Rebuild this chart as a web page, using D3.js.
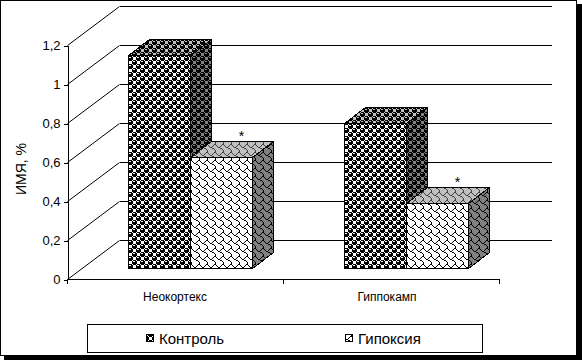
<!DOCTYPE html>
<html lang="ru">
<head>
<meta charset="utf-8">
<title>ИМЯ, %</title>
<script src="https://d3js.org/d3.v7.min.js"></script>
<style>
  body { margin: 0; background: #fff; }
  svg { display: block; font-family: "Liberation Sans", Arial, sans-serif; }
</style>
</head>
<body>
<script>
const categories = ["Неокортекс", "Гиппокамп"];
const seriesNames = ["Контроль", "Гипоксия"];
const control = [1.09, 0.74];
const hypoxia = [0.57, 0.33];
const hypoxiaLabels = ["*", "*"];
const yTicks = [0, 0.2, 0.4, 0.6, 0.8, 1, 1.2];
const yTitle = "ИМЯ, %";

const W = 582, H = 360;
const svg = d3.select("body").append("svg").attr("width", W).attr("height", H);
const defs = svg.append("defs");

// oblique depth of the 3d box, and where the bars sit inside it
const DX = 52, DY = -39;
const f0 = 0.29, f1 = 0.69;

const x0 = d3.scaleBand().domain(categories).range([67, 499])
    .paddingInner(0.426).paddingOuter(0.213);
const x1 = d3.scaleBand().domain(seriesNames).range([0, x0.bandwidth()]);
const y = d3.scaleLinear().domain([0, 1.2]).range([279, 45]);

// 8x8 excel-like hatch patterns
const sphereBits = ["01110111","10011000","11111000","11111000","01110111","10001001","10001111","10001111"];
const shingleBits = ["00000011","10000100","01001000","00110000","00001100","00000010","00000001","00000001"];

function addPattern(id, bits, fg, bg) {
  const p = defs.append("pattern").attr("id", id)
      .attr("patternUnits", "userSpaceOnUse").attr("width", 8).attr("height", 8);
  p.append("rect").attr("width", 8).attr("height", 8).attr("fill", bg);
  bits.forEach((row, r) => row.split("").forEach((b, c) => {
    if (b === "1") p.append("rect").attr("x", c).attr("y", r)
        .attr("width", 1).attr("height", 1).attr("fill", fg)
        .attr("shape-rendering", "crispEdges");
  }));
}
addPattern("c-front", sphereBits, "#000", "#fff");
addPattern("c-top", sphereBits, "#000", "#c0c0c0");
addPattern("c-side", sphereBits, "#000", "#808080");
addPattern("h-front", shingleBits, "#000", "#fff");
addPattern("h-top", shingleBits, "#404040", "#c0c0c0");
addPattern("h-side", shingleBits, "#000", "#808080");

// frame with shadow
svg.append("rect").attr("x", 4).attr("y", 4).attr("width", 578).attr("height", 356).attr("fill", "#000");
svg.append("rect").attr("x", 0.5).attr("y", 0.5).attr("width", 576).attr("height", 355)
    .attr("fill", "#fff").attr("stroke", "#000");

const g = svg.append("g").attr("shape-rendering", "crispEdges");
const [xL, xR] = x0.range();

// walls: back gridlines and side diagonals
yTicks.forEach(v => {
  g.append("line").attr("x1", xL + DX + 0.5).attr("x2", xR + DX + 0.5)
      .attr("y1", y(v) + DY + 0.5).attr("y2", y(v) + DY + 0.5).attr("stroke", "#000");
  g.append("line").attr("x1", xL + 0.5).attr("y1", y(v) + 0.5)
      .attr("x2", xL + DX + 0.5).attr("y2", y(v) + DY + 0.5)
      .attr("stroke", "#000").attr("shape-rendering", "auto");
});

// value axis
const yAxis = d3.axisLeft(y).tickValues(yTicks).tickSize(4).tickSizeOuter(0).tickPadding(3)
    .tickFormat(d => String(d).replace(".", ","));
g.append("g").attr("transform", `translate(${xL + 0.5},0.5)`).call(yAxis)
    .call(a => a.selectAll("text").attr("font-size", 13).attr("font-family", null))
    .call(a => a.selectAll("path,line").attr("stroke", "#000"));

// category axis: line, boundary ticks and labels
g.append("line").attr("x1", xL).attr("x2", xR + 1).attr("y1", y(0) + 0.5).attr("y2", y(0) + 0.5).attr("stroke", "#000");
[xL, xR].concat(categories.slice(1).map(c => x0(c) - x0.step() * x0.paddingInner() / 2)).forEach(t => {
  g.append("line").attr("x1", Math.round(t) + 0.5).attr("x2", Math.round(t) + 0.5)
      .attr("y1", y(0)).attr("y2", y(0) + 5).attr("stroke", "#000");
});
g.selectAll(".cat").data(categories).join("text").attr("class", "cat")
    .attr("x", (d, i) => x0(d) + x0.bandwidth() / 2 - i * 4).attr("y", y(0) + 22)
    .attr("text-anchor", "middle").attr("font-size", 12).text(d => d);

// bars, drawn back-to-front
const bars = [];
categories.forEach((c, i) => {
  bars.push({ cat: c, s: seriesNames[0], v: control[i], p: "c" });
  bars.push({ cat: c, s: seriesNames[1], v: hypoxia[i], p: "h", label: hypoxiaLabels[i] });
});
const ddx = DX * (f1 - f0), ddy = DY * (f1 - f0);
bars.forEach(b => {
  const x = Math.round(x0(b.cat) + x1(b.s) + DX * f0) + 0.5;
  const w = Math.round(x1.bandwidth());
  const base = Math.round(y(0) + DY * f0) + 0.5;
  const top = Math.round(y(b.v) + DY * f0) + 0.5;
  const bx = Math.round(ddx), by = Math.round(ddy);
  const bg = g.append("g").attr("stroke", "#000");
  bg.append("polygon").attr("points", [[x + w, top], [x + w + bx, top + by], [x + w + bx, base + by], [x + w, base]].join(" "))
      .attr("fill", `url(#${b.p}-side)`);
  bg.append("polygon").attr("points", [[x, top], [x + w, top], [x + w + bx, top + by], [x + bx, top + by]].join(" "))
      .attr("fill", `url(#${b.p}-top)`);
  bg.append("rect").attr("x", x).attr("y", top).attr("width", w).attr("height", base - top)
      .attr("fill", `url(#${b.p}-front)`);
  if (b.label) {
    svg.append("text").attr("x", x + w / 2 + bx - 1).attr("y", top + by - 1)
        .attr("text-anchor", "middle").attr("font-size", 14).text(b.label);
  }
});

// value axis title
svg.append("text").attr("transform", "translate(26,169) rotate(-90)")
    .attr("text-anchor", "middle").attr("font-size", 14).text(yTitle);

// legend
const lg = svg.append("g").attr("shape-rendering", "crispEdges");
lg.append("rect").attr("x", 87.5).attr("y", 324.5).attr("width", 395).attr("height", 28)
    .attr("fill", "#fff").attr("stroke", "#000");
const legX = d3.scaleOrdinal().domain(seriesNames).range([146, 345]);
seriesNames.forEach((s, i) => {
  const p = i === 0 ? "c" : "h";
  lg.append("rect").attr("x", legX(s) + 0.5).attr("y", 334.5).attr("width", 7).attr("height", 7)
      .attr("fill", `url(#${p}-front)`).attr("stroke", "#000");
  lg.append("text").attr("x", legX(s) + 13).attr("y", 344).attr("font-size", 15).text(s);
});
</script>
</body>
</html>
